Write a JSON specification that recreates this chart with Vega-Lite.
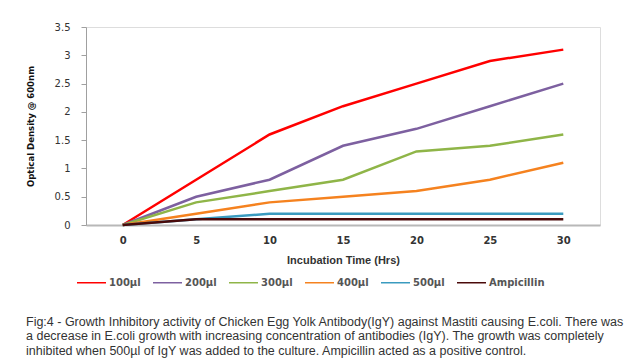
{
  "$schema": "https://vega.github.io/schema/vega-lite/v6.json",
  "width": 514,
  "height": 198,
  "autosize": {"type": "none"},
  "padding": {"left": 86, "top": 27, "right": 40, "bottom": 137},
  "background": "white",
  "title": {
    "text": [
      "Fig:4 - Growth Inhibitory activity of Chicken Egg Yolk Antibody(IgY) against Mastiti causing E.coli. There was",
      "a decrease in E.coli growth with  increasing concentration of antibodies (IgY). The growth was completely",
      "inhibited when 500µl of IgY was added to the culture. Ampicillin acted as a positive control."
    ],
    "orient": "bottom",
    "anchor": "start",
    "frame": "group",
    "dx": -60,
    "offset": 28,
    "font": "Liberation Sans",
    "fontSize": 12.5,
    "fontWeight": "normal",
    "lineHeight": 14.3,
    "color": "#333333"
  },
  "data": {
    "values": [
      {"series": "100µl", "time": 0, "od": 0},
      {"series": "100µl", "time": 5, "od": 0.8},
      {"series": "100µl", "time": 10, "od": 1.6},
      {"series": "100µl", "time": 15, "od": 2.1},
      {"series": "100µl", "time": 20, "od": 2.5},
      {"series": "100µl", "time": 25, "od": 2.9},
      {"series": "100µl", "time": 30, "od": 3.1},
      {"series": "200µl", "time": 0, "od": 0},
      {"series": "200µl", "time": 5, "od": 0.5},
      {"series": "200µl", "time": 10, "od": 0.8},
      {"series": "200µl", "time": 15, "od": 1.4},
      {"series": "200µl", "time": 20, "od": 1.7},
      {"series": "200µl", "time": 25, "od": 2.1},
      {"series": "200µl", "time": 30, "od": 2.5},
      {"series": "300µl", "time": 0, "od": 0},
      {"series": "300µl", "time": 5, "od": 0.4},
      {"series": "300µl", "time": 10, "od": 0.6},
      {"series": "300µl", "time": 15, "od": 0.8},
      {"series": "300µl", "time": 20, "od": 1.3},
      {"series": "300µl", "time": 25, "od": 1.4},
      {"series": "300µl", "time": 30, "od": 1.6},
      {"series": "400µl", "time": 0, "od": 0},
      {"series": "400µl", "time": 5, "od": 0.2},
      {"series": "400µl", "time": 10, "od": 0.4},
      {"series": "400µl", "time": 15, "od": 0.5},
      {"series": "400µl", "time": 20, "od": 0.6},
      {"series": "400µl", "time": 25, "od": 0.8},
      {"series": "400µl", "time": 30, "od": 1.1},
      {"series": "500µl", "time": 0, "od": 0},
      {"series": "500µl", "time": 5, "od": 0.1},
      {"series": "500µl", "time": 10, "od": 0.2},
      {"series": "500µl", "time": 15, "od": 0.2},
      {"series": "500µl", "time": 20, "od": 0.2},
      {"series": "500µl", "time": 25, "od": 0.2},
      {"series": "500µl", "time": 30, "od": 0.2},
      {"series": "Ampicillin", "time": 0, "od": 0},
      {"series": "Ampicillin", "time": 5, "od": 0.1},
      {"series": "Ampicillin", "time": 10, "od": 0.1},
      {"series": "Ampicillin", "time": 15, "od": 0.1},
      {"series": "Ampicillin", "time": 20, "od": 0.1},
      {"series": "Ampicillin", "time": 25, "od": 0.1},
      {"series": "Ampicillin", "time": 30, "od": 0.1}
    ]
  },
  "mark": {"type": "line", "strokeWidth": 2.5, "clip": false},
  "encoding": {
    "x": {
      "field": "time",
      "type": "quantitative",
      "scale": {"domain": [-2.5, 32.5], "nice": false, "zero": false},
      "axis": {
        "title": "Incubation Time (Hrs)",
        "values": [0, 5, 10, 15, 20, 25, 30],
        "grid": false,
        "ticks": false,
        "domainColor": "#b8b8b8",
        "domainWidth": 2,
        "labelPadding": 10,
        "labelFont": "DejaVu Sans",
        "labelFontSize": 10,
        "labelFontWeight": "bold",
        "labelColor": "#333333",
        "titleFont": "Liberation Sans",
        "titleFontSize": 11,
        "titleFontWeight": "bold",
        "titleColor": "#333333",
        "titlePadding": 9
      }
    },
    "y": {
      "field": "od",
      "type": "quantitative",
      "scale": {"domain": [0, 3.5], "nice": false},
      "axis": {
        "title": "Optical Density @ 600nm",
        "values": [0, 0.5, 1, 1.5, 2, 2.5, 3, 3.5],
        "format": "~g",
        "grid": false,
        "ticks": true,
        "tickSize": 5,
        "tickColor": "#a0a0a0",
        "domainColor": "#a0a0a0",
        "labelPadding": 11,
        "labelFont": "DejaVu Sans",
        "labelFontSize": 10,
        "labelColor": "#333333",
        "titleFont": "DejaVu Sans Condensed, Liberation Sans, sans-serif",
        "titleFontSize": 9.5,
        "titleFontWeight": "bold",
        "titleColor": "#111111",
        "titleX": -51
      }
    },
    "color": {
      "field": "series",
      "type": "nominal",
      "scale": {
        "domain": ["100µl", "200µl", "300µl", "400µl", "500µl", "Ampicillin"],
        "range": ["#ff0000", "#7d60a0", "#8fb548", "#f5821f", "#3a9bbf", "#4a0a0a"]
      },
      "legend": {
        "title": null,
        "orient": "none",
        "direction": "horizontal",
        "legendX": -10,
        "legendY": 240,
        "symbolType": "stroke",
        "symbolSize": 841,
        "symbolStrokeWidth": 1.5,
        "labelOffset": 2,
        "columnPadding": 9,
        "labelFont": "DejaVu Sans",
        "labelFontSize": 10,
        "labelFontWeight": "bold",
        "labelColor": "#555555"
      }
    }
  }
}
